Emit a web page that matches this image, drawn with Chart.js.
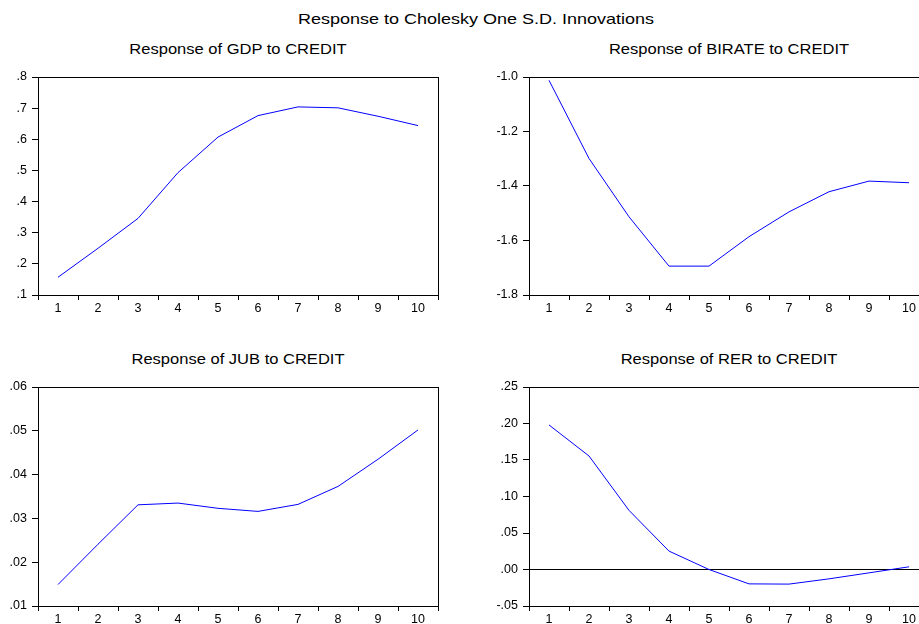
<!DOCTYPE html>
<html lang="en">
<head>
  <meta charset="UTF-8" />
  <title>Response to Cholesky One S.D. Innovations</title>
  <script src="https://cdn.jsdelivr.net/npm/chart.js"></script>
  <style>
    html, body {
      margin: 0;
      padding: 0;
      width: 919px;
      height: 624px;
      overflow: hidden;
      background: #fff;
      font-family: "Liberation Sans", Arial, sans-serif;
      color: #000;
    }
    .titulo {
      position: absolute;
      white-space: nowrap;
      transform-origin: center center;
    }
    #mainTitle {
      left: 476px;
      top: 18px;
      font-size: 15px;
      transform: translate(-50%, -50%) scaleX(1.2);
    }
    .painel-titulo {
      font-size: 14px;
      transform: translate(-50%, -50%) scaleX(1.18);
    }
    canvas {
      position: absolute;
    }
  </style>
</head>
<body>
  <div id="mainTitle" class="titulo">Response to Cholesky One S.D. Innovations</div>

  <div class="titulo painel-titulo" style="left:238px; top:49px;">Response of GDP to CREDIT</div>
  <div class="titulo painel-titulo" style="left:729px; top:49px;">Response of BIRATE to CREDIT</div>
  <div class="titulo painel-titulo" style="left:238px; top:359px;">Response of JUB to CREDIT</div>
  <div class="titulo painel-titulo" style="left:729px; top:359px;">Response of RER to CREDIT</div>

  <canvas id="gdpChart" width="460" height="259" style="left:0px; top:61px;"></canvas>
  <canvas id="birateChart" width="460" height="259" style="left:491px; top:61px;"></canvas>
  <canvas id="jubChart" width="460" height="260" style="left:0px; top:371px;"></canvas>
  <canvas id="rerChart" width="460" height="260" style="left:491px; top:371px;"></canvas>

  <script>
    // periodos
    const periodos = ['1', '2', '3', '4', '5', '6', '7', '8', '9', '10'];

    // respostas
    const respGDP = [0.157, 0.250, 0.346, 0.493, 0.607, 0.676, 0.704, 0.701, 0.674, 0.644];
    const respBIRATE = [-1.012, -1.299, -1.513, -1.694, -1.694, -1.586, -1.495, -1.421, -1.382, -1.388];
    const respJUB = [0.0149, 0.0241, 0.0331, 0.0335, 0.0323, 0.0316, 0.0332, 0.0373, 0.0435, 0.0502];
    const respRER = [0.198, 0.1555, 0.081, 0.0252, 0.0, -0.0197, -0.020, -0.0128, -0.0046, 0.0037];

    // ticks do eixo y
    const ticksGDP = [0.1, 0.2, 0.3, 0.4, 0.5, 0.6, 0.7, 0.8];
    const labelsGDP = ['.1', '.2', '.3', '.4', '.5', '.6', '.7', '.8'];
    const ticksBIRATE = [-1.8, -1.6, -1.4, -1.2, -1.0];
    const labelsBIRATE = ['-1.8', '-1.6', '-1.4', '-1.2', '-1.0'];
    const ticksJUB = [0.01, 0.02, 0.03, 0.04, 0.05, 0.06];
    const labelsJUB = ['.01', '.02', '.03', '.04', '.05', '.06'];
    const ticksRER = [-0.05, 0, 0.05, 0.10, 0.15, 0.20, 0.25];
    const labelsRER = ['-.05', '.00', '.05', '.10', '.15', '.20', '.25'];

    const fonte = { family: '"Liberation Sans", Arial, sans-serif', size: 12.5 };

    // desenha a moldura completa da area do grafico
    const moldura = {
      id: 'moldura',
      afterDraw(chart) {
        const { ctx, chartArea } = chart;
        ctx.save();
        ctx.strokeStyle = '#000';
        ctx.lineWidth = 1;
        ctx.strokeRect(chartArea.left + 0.5, chartArea.top + 0.5,
          chartArea.right - chartArea.left, chartArea.bottom - chartArea.top);
        ctx.restore();
      }
    };

    function criarGrafico(id, dados, ticks, labels, linhaZero) {
      const ctx = document.getElementById(id).getContext('2d');
      return new Chart(ctx, {
        type: 'line',
        data: {
          labels: periodos,
          datasets: [{
            data: dados,
            borderColor: '#0000ff',
            borderWidth: 1,
            pointRadius: 0,
            tension: 0,
            fill: false
          }]
        },
        options: {
          responsive: false,
          animation: false,
          layout: { padding: { top: 16, right: 22, left: 0, bottom: 0 } },
          plugins: {
            legend: { display: false },
            title: { display: false },
            tooltip: { enabled: false }
          },
          scales: {
            x: {
              type: 'category',
              offset: true,
              afterFit(scale) { scale.height = 25; },
              grid: {
                offset: true,
                drawOnChartArea: false,
                tickLength: 5,
                tickColor: '#000'
              },
              border: { color: '#000', width: 1 },
              ticks: {
                color: '#000',
                font: fonte,
                padding: 1,
                maxRotation: 0,
                autoSkip: false
              }
            },
            y: {
              min: ticks[0],
              max: ticks[ticks.length - 1],
              afterFit(scale) { scale.width = 38; },
              afterBuildTicks(scale) {
                scale.ticks = ticks.map(v => ({ value: v }));
              },
              grid: {
                drawOnChartArea: linhaZero,
                color: c => (linhaZero && c.tick && c.tick.value === 0) ? '#000' : 'rgba(0,0,0,0)',
                tickLength: 6,
                tickColor: '#000'
              },
              border: { color: '#000', width: 1 },
              ticks: {
                color: '#000',
                font: fonte,
                padding: 5,
                callback: (v, i) => labels[i]
              }
            }
          }
        },
        plugins: [moldura]
      });
    }

    criarGrafico('gdpChart', respGDP, ticksGDP, labelsGDP, false);
    criarGrafico('birateChart', respBIRATE, ticksBIRATE, labelsBIRATE, false);
    criarGrafico('jubChart', respJUB, ticksJUB, labelsJUB, false);
    criarGrafico('rerChart', respRER, ticksRER, labelsRER, true);
  </script>
</body>
</html>
